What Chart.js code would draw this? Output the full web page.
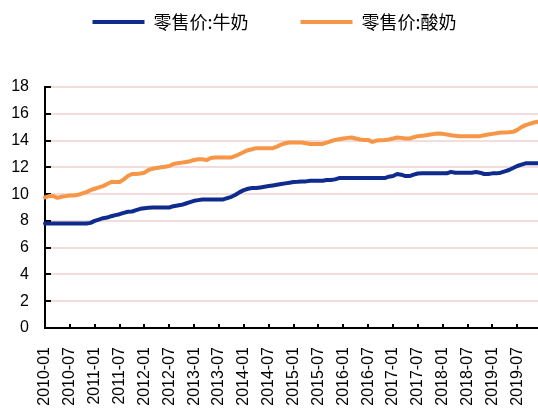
<!DOCTYPE html>
<html>
<head>
<meta charset="utf-8">
<script src="https://cdn.jsdelivr.net/npm/chart.js@4.4.0/dist/chart.umd.min.js"></script>
<style>
  html, body { margin: 0; padding: 0; background: #ffffff; }
  #wrap { width: 538px; height: 412px; }
</style>
</head>
<body>
<div id="wrap"><canvas id="chart" width="538" height="412"></canvas></div>
<script>
// Monthly retail prices, 2010-01 .. 2019-12
const years = [2010, 2011, 2012, 2013, 2014, 2015, 2016, 2017, 2018, 2019];
const months = ['01', '02', '03', '04', '05', '06', '07', '08', '09', '10', '11', '12'];
const categories = [];
years.forEach(y => months.forEach(m => categories.push(y + '-' + m)));

const seriesNames = ['零售价:牛奶', '零售价:酸奶'];

const milkPrice = [
  7.8, 7.8, 7.8, 7.8, 7.8, 7.8, 7.8, 7.8, 7.8, 7.8, 7.8, 7.85,
  8.0, 8.1, 8.2, 8.25, 8.35, 8.43, 8.5, 8.6, 8.68, 8.7, 8.8, 8.9,
  8.95, 8.98, 9.0, 9.0, 9.0, 9.0, 9.0, 9.1, 9.15, 9.2, 9.3, 9.4,
  9.5, 9.55, 9.6, 9.6, 9.6, 9.6, 9.6, 9.6, 9.7, 9.8, 9.95, 10.15,
  10.3, 10.4, 10.45, 10.45, 10.5, 10.55, 10.6, 10.65, 10.7, 10.75, 10.8, 10.85,
  10.9, 10.92, 10.95, 10.95, 11.0, 11.0, 11.0, 11.0, 11.05, 11.05, 11.1, 11.2,
  11.2, 11.2, 11.2, 11.2, 11.2, 11.2, 11.2, 11.2, 11.2, 11.2, 11.2, 11.3,
  11.35, 11.5, 11.45, 11.35, 11.35, 11.45, 11.54, 11.55, 11.55, 11.55, 11.55, 11.55,
  11.55, 11.55, 11.66, 11.6, 11.6, 11.6, 11.6, 11.6, 11.65, 11.6, 11.5, 11.5,
  11.55, 11.55, 11.6, 11.7, 11.8, 11.95, 12.1, 12.2, 12.3, 12.3, 12.3, 12.3
];

const yogurtPrice = [
  9.75, 9.85, 9.85, 9.72, 9.8, 9.85, 9.9, 9.9, 9.95, 10.05, 10.15, 10.3,
  10.4, 10.5, 10.6, 10.75, 10.9, 10.9, 10.9, 11.1, 11.35, 11.5, 11.5, 11.54,
  11.6, 11.8, 11.9, 11.95, 12.0, 12.05, 12.1, 12.25, 12.3, 12.35, 12.4, 12.46,
  12.55, 12.6, 12.6, 12.54, 12.7, 12.74, 12.74, 12.74, 12.74, 12.74, 12.85, 13.0,
  13.15, 13.28, 13.35, 13.43, 13.43, 13.43, 13.43, 13.43, 13.55, 13.7, 13.8, 13.86,
  13.86, 13.86, 13.86, 13.8, 13.75, 13.75, 13.75, 13.75, 13.85, 13.95, 14.05, 14.1,
  14.15, 14.2, 14.23, 14.15, 14.08, 14.05, 14.05, 13.9, 14.0, 14.03, 14.05, 14.08,
  14.15, 14.23, 14.2, 14.15, 14.15, 14.25, 14.33, 14.35, 14.4, 14.45, 14.5, 14.53,
  14.5, 14.45, 14.4, 14.35, 14.33, 14.33, 14.33, 14.33, 14.33, 14.33, 14.4, 14.45,
  14.5, 14.55, 14.6, 14.6, 14.62, 14.65, 14.8, 15.0, 15.15, 15.25, 15.35, 15.4
];

const yTickValues = [0, 2, 4, 6, 8, 10, 12, 14, 16, 18];
const labelEvery = 6; // one axis label per half year

const BLUE = '#0f2b8e';
const ORANGE = '#f79646';

// Short tick marks pointing into the plot area on both axes
const innerTicks = {
  id: 'innerTicks',
  beforeDatasetsDraw(chart) {
    const { ctx, chartArea, scales: { x, y } } = chart;
    ctx.save();
    ctx.strokeStyle = '#000';
    ctx.lineWidth = 2;
    ctx.beginPath();
    yTickValues.forEach(v => {
      const py = Math.round(y.getPixelForValue(v));
      ctx.moveTo(chartArea.left, py);
      ctx.lineTo(chartArea.left + 6, py);
    });
    categories.forEach((c, i) => {
      if (i % labelEvery !== 0 || i === 0) return;
      const px = Math.round(x.getPixelForValue(i));
      ctx.moveTo(px, chartArea.bottom);
      ctx.lineTo(px, chartArea.bottom - 4);
    });
    ctx.stroke();
    ctx.restore();
  }
};

// Extra room under the legend row
const legendSpacing = {
  id: 'legendSpacing',
  beforeInit(chart) {
    const fit = chart.legend.fit;
    chart.legend.fit = function () {
      fit.call(this);
      this.height += 46;
    };
  }
};

new Chart(document.getElementById('chart'), {
  type: 'line',
  data: {
    labels: categories,
    datasets: [
      {
        label: seriesNames[0],
        data: milkPrice,
        borderColor: BLUE,
        backgroundColor: BLUE,
        borderWidth: 4,
        pointRadius: 0,
        tension: 0,
        borderJoinStyle: 'round',
        borderCapStyle: 'round'
      },
      {
        label: seriesNames[1],
        data: yogurtPrice,
        borderColor: ORANGE,
        backgroundColor: ORANGE,
        borderWidth: 4,
        pointRadius: 0,
        tension: 0,
        borderJoinStyle: 'round',
        borderCapStyle: 'round'
      }
    ]
  },
  options: {
    responsive: false,
    animation: false,
    layout: { padding: { top: -39, left: 11, right: 0, bottom: 0 } },
    plugins: {
      tooltip: { enabled: false },
      legend: {
        position: 'top',
        labels: {
          usePointStyle: true,
          pointStyle: 'line',
          pointStyleWidth: 52,
          boxWidth: 52,
          boxHeight: 18,
          padding: 52,
          color: '#000',
          font: { family: '"Noto Sans CJK SC"', size: 18 }
        }
      }
    },
    scales: {
      x: {
        type: 'category',
        offset: false,
        grid: { display: true, drawOnChartArea: false, drawTicks: false },
        border: { display: true, color: '#000', width: 2 },
        ticks: {
          autoSkip: false,
          minRotation: 90,
          maxRotation: 90,
          padding: 19,
          color: '#000',
          font: { family: '"Liberation Sans", Arial, sans-serif', size: 16 },
          callback: (val, idx) => (idx % labelEvery === 0 ? categories[idx] : '')
        },
        afterFit(scale) {
          scale.height = 84;
          scale.paddingRight = 0;
          scale.paddingLeft = 0;
        }
      },
      y: {
        min: 0,
        max: 18,
        grid: { color: '#f2dcdc', lineWidth: 2, drawTicks: false },
        border: { display: true, color: '#000', width: 2 },
        afterBuildTicks(scale) {
          scale.ticks = yTickValues.map(v => ({ value: v }));
        },
        afterFit(scale) {
          scale.width = 34;
        },
        ticks: {
          padding: 16,
          color: '#000',
          font: { family: '"Liberation Sans", Arial, sans-serif', size: 16 }
        }
      }
    }
  },
  plugins: [innerTicks, legendSpacing]
});
</script>
</body>
</html>
